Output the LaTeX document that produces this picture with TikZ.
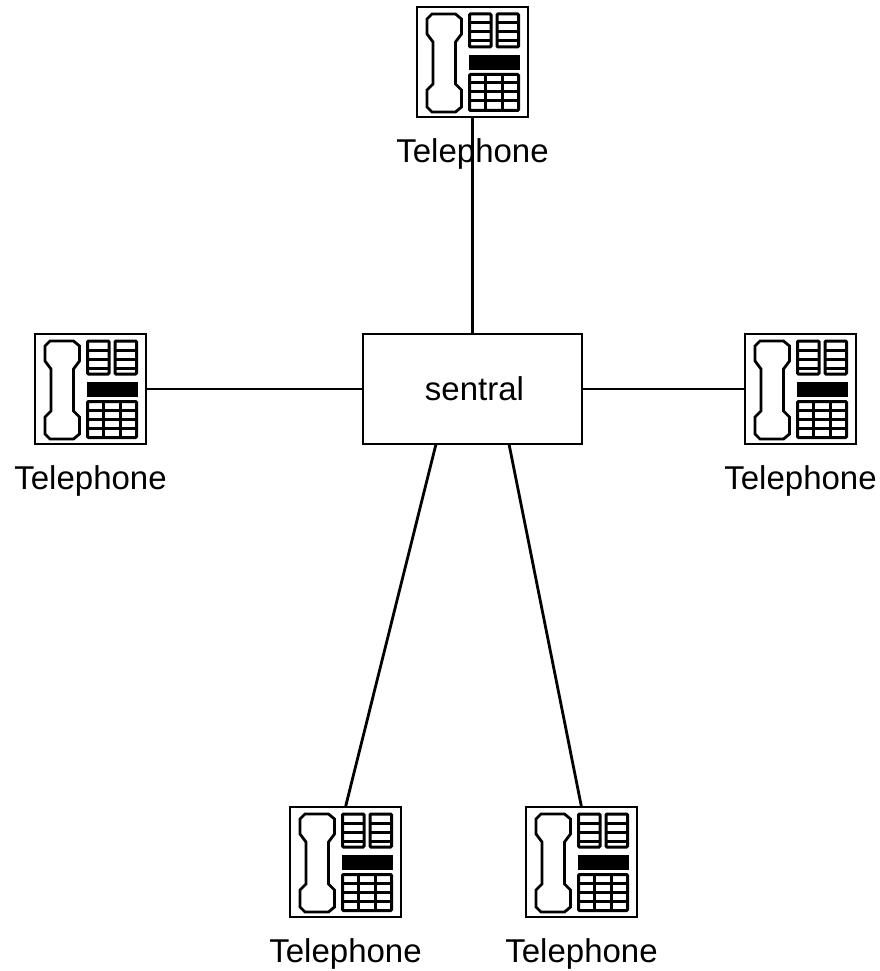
\documentclass[tikz,border=0pt]{standalone}
\usepackage{fontspec}
\setmainfont{Liberation Sans}
\usepackage{tikz}
\usetikzlibrary{positioning}
\tikzset{
x=1pt, y=-1pt,
node distance=217pt,
sentral box/.style={draw, minimum width=219pt, minimum height=110pt, outer sep=0pt, inner sep=0pt, font=\fontsize{33}{36}\selectfont},
phone box/.style={draw, minimum width=111pt, minimum height=110pt, outer sep=0pt, inner sep=0pt},
phone label/.style={font=\fontsize{33}{36}\selectfont, inner sep=0pt},
key line/.style={line width=3pt},
pics/telephone/.style={code={
    % handset
    \draw (-40.5,-48) -- (-17,-48) -- (-11,-43) -- (-11,-28) -- (-17,-20) -- (-17,22) -- (-11,28) -- (-11,45)
    -- (-17,50) -- (-40.5,50) -- (-45.5,45) -- (-45.5,28) -- (-39.5,22) -- (-39.5,-20) -- (-45.5,-28) -- (-45.5,-43) -- cycle;
    % memory keys
    \draw[key line, rounded corners=1pt] (-3,-48) rectangle (18.5,-15);
    \draw[key line, rounded corners=1pt] (24.5,-48) rectangle (46,-15);
    \foreach \y in {-39,-30,-21} {
        \draw[key line] (-3,\y) -- (18.5,\y);
        \draw[key line] (24.5,\y) -- (46,\y);
    }
    % display
    \fill (-4,-7) rectangle (47,8);
    % keypad
    \draw[key line, rounded corners=1pt] (-3,12.5) rectangle (46,48.5);
    \foreach \y in {21,30,39} \draw[key line] (-3,\y) -- (46,\y);
    \foreach \x in {12.5,30} \draw[key line] (\x,12.5) -- (\x,48.5);
}},
}

\begin{document}
\begin{tikzpicture}[line width=2.8pt]
    \useasboundingbox (0,0) rectangle (880,971);

    \node[sentral box] (sentral) at (472.5,389) {\hspace*{4pt}\raisebox{1.5pt}{sentral}};
    \node[phone box, above=of sentral] (phoneN) {};
    \node[phone box, left=of sentral] (phoneW) {};
    \node[phone box, right=163pt of sentral] (phoneE) {};
    \node[phone box, below=363pt of sentral, xshift=-127pt] (phoneA) {};
    \node[phone box, below=363pt of sentral, xshift=109pt] (phoneB) {};

    \foreach \p in {phoneN, phoneW, phoneE, phoneA, phoneB} {
        \pic at (\p) {telephone};
        \node[phone label, below=20pt of \p] (\p-label) {Telephone};
    }

    \coordinate (sentralA) at ([xshift=-36.5pt]sentral.south);
    \coordinate (sentralB) at ([xshift=36.5pt]sentral.south);

    \draw (phoneN) -- (sentral);
    \draw (phoneW) -- (sentral);
    \draw (phoneE) -- (sentral);
    \draw (sentralA) -- (phoneA.north);
    \draw (sentralB) -- (phoneB.north);
\end{tikzpicture}
\end{document}
